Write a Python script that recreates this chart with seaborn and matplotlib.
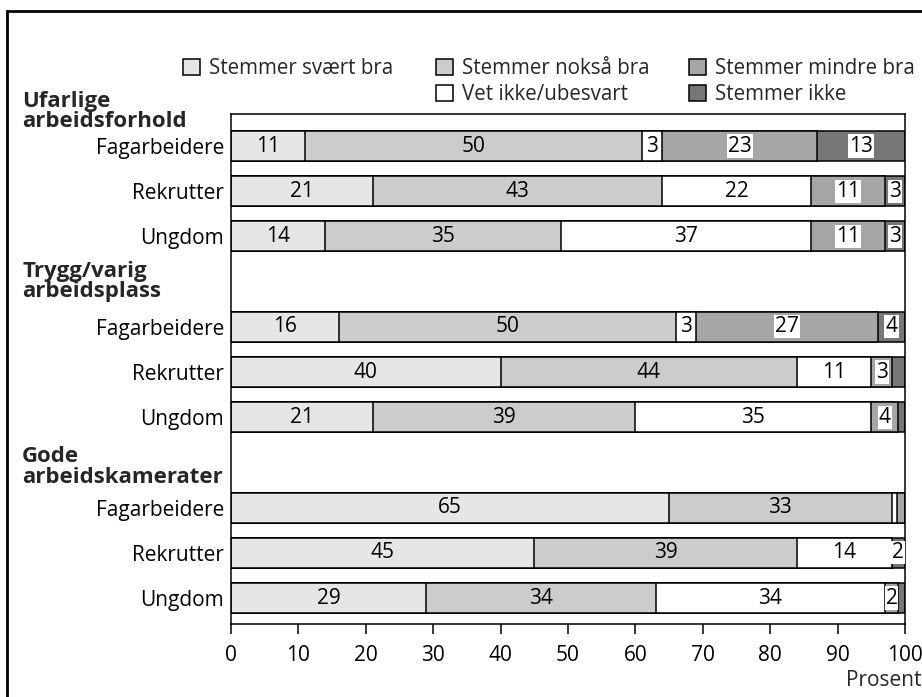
#!/usr/bin/env python3

# Stacked horizontal bars: agreement with statements about work, by respondent group

import matplotlib
matplotlib.use("Agg")
import matplotlib.pyplot as plt
import matplotlib.transforms as mtrans
from matplotlib.patches import Patch, Rectangle
import seaborn as sns
import pandas as pd

groups = ["Ufarlige\narbeidsforhold", "Trygg/varig\narbeidsplass", "Gode\narbeidskamerater"]
respondents = ["Fagarbeidere", "Rekrutter", "Ungdom"]
answers = [
    "Stemmer svært bra",
    "Stemmer nokså bra",
    "Vet ikke/ubesvart",
    "Stemmer mindre bra",
    "Stemmer ikke",
]
colors = ["#e6e6e6", "#cccccc", "#ffffff", "#a6a6a6", "#777777"]

# one value per bar, group by group (Fagarbeidere, Rekrutter, Ungdom)
svaert_bra = [11, 21, 14, 16, 40, 21, 65, 45, 29]
noksaa_bra = [50, 43, 35, 50, 44, 39, 33, 39, 34]
vet_ikke = [3, 22, 37, 3, 11, 35, 0.8, 14, 34]
mindre_bra = [23, 11, 11, 27, 3.1, 4, 1.2, 0, 2]
ikke = [13, 3, 3, 4, 1.9, 1, 0, 2, 1]

xticks = list(range(0, 101, 10))

W, H = 922, 697


def main():
    sns.set_style("white")
    plt.rcParams["font.family"] = ["Open Sans", "DejaVu Sans"]
    fs = 15

    series = [svaert_bra, noksaa_bra, vet_ikke, mindre_bra, ikke]
    df = pd.DataFrame({a: s for a, s in zip(answers, series)})
    df["Gruppe"] = [g for g in groups for _ in respondents]
    df["Svar"] = respondents * len(groups)
    df["pos"] = [gi * 4 + ri for gi in range(len(groups)) for ri in range(len(respondents))]
    cum = df[answers].cumsum(axis=1)
    for a in answers:
        df["cum " + a] = cum[a]

    fig = plt.figure(figsize=(W / 100, H / 100), dpi=100)
    ax = fig.add_axes([231 / W, 1 - 624 / H, (905 - 231) / W, (624 - 114) / H])

    # overlay bars from the longest cumulative sum to the shortest
    for a, c in reversed(list(zip(answers, colors))):
        sns.barplot(
            data=df, x="cum " + a, y="pos", orient="h", native_scale=True,
            color=c, saturation=1, edgecolor="black", linewidth=1.1,
            width=0.66, errorbar=None, ax=ax,
        )

    # segment labels
    for j, a in enumerate(answers):
        for _, row in df.iterrows():
            v = row[a]
            if v < 2:
                continue
            x = row["cum " + a] - v / 2
            kw = {}
            if j >= 3:
                kw["bbox"] = dict(boxstyle="square,pad=0.05", fc="white", ec="none")
            ax.text(x, row["pos"], f"{v:.0f}", ha="center", va="center",
                    fontsize=fs, color="black", **kw)

    ax.set_xlim(0, 100)
    ax.set_ylim(10.575, -0.708)
    ax.set_xticks(xticks)
    ax.set_xticklabels([str(t) for t in xticks])
    ax.set_yticks(df["pos"])
    ax.set_yticklabels(df["Svar"])
    ax.set_xlabel("")
    ax.set_ylabel("")
    ax.tick_params(axis="x", direction="out", length=7, width=1.1, pad=8,
                   labelsize=fs, bottom=True, colors="black")
    ax.tick_params(axis="y", length=0, pad=5, labelsize=fs, colors="black")
    for s in ax.spines.values():
        s.set_visible(True)
        s.set_color("black")
        s.set_linewidth(1.1)

    # group headers in bold at the far left
    tr = mtrans.blended_transform_factory(fig.transFigure, ax.transData)
    for gi, g in enumerate(groups):
        off = [0.76, 1.0, 0.9][gi]
        ax.text(22 / W, gi * 4 - off, g, transform=tr, ha="left", va="center",
                fontsize=16, fontweight="bold", linespacing=0.95)

    fig.text(921 / W, 1 - 680 / H, "Prosent", ha="right", va="center", fontsize=fs)

    # legend: three columns placed side by side, the first one has a single entry
    hs = [Patch(facecolor=c, edgecolor="black", linewidth=1.1, label=a)
          for a, c in zip(answers, colors)]
    columns = [[hs[0]], [hs[1], hs[2]], [hs[3], hs[4]]]
    for col, x0 in zip(columns, [183, 436, 689]):
        fig.legend(
            handles=col, loc="upper left", bbox_to_anchor=(x0 / W, 1 - 58 / H),
            ncol=1, frameon=False, fontsize=14.8, handlelength=0.85, handleheight=0.85,
            handletextpad=0.4, labelspacing=0.25, borderaxespad=0, borderpad=0,
        )

    # outer frame, cut by the figure edge at right and bottom
    fig.patches.append(Rectangle((7 / W, -0.1), 1.2, 1.1 - 11 / H, transform=fig.transFigure,
                                 fill=False, edgecolor="black", linewidth=2))

    fig.savefig("out.png", dpi=100)


if __name__ == "__main__":
    main()
